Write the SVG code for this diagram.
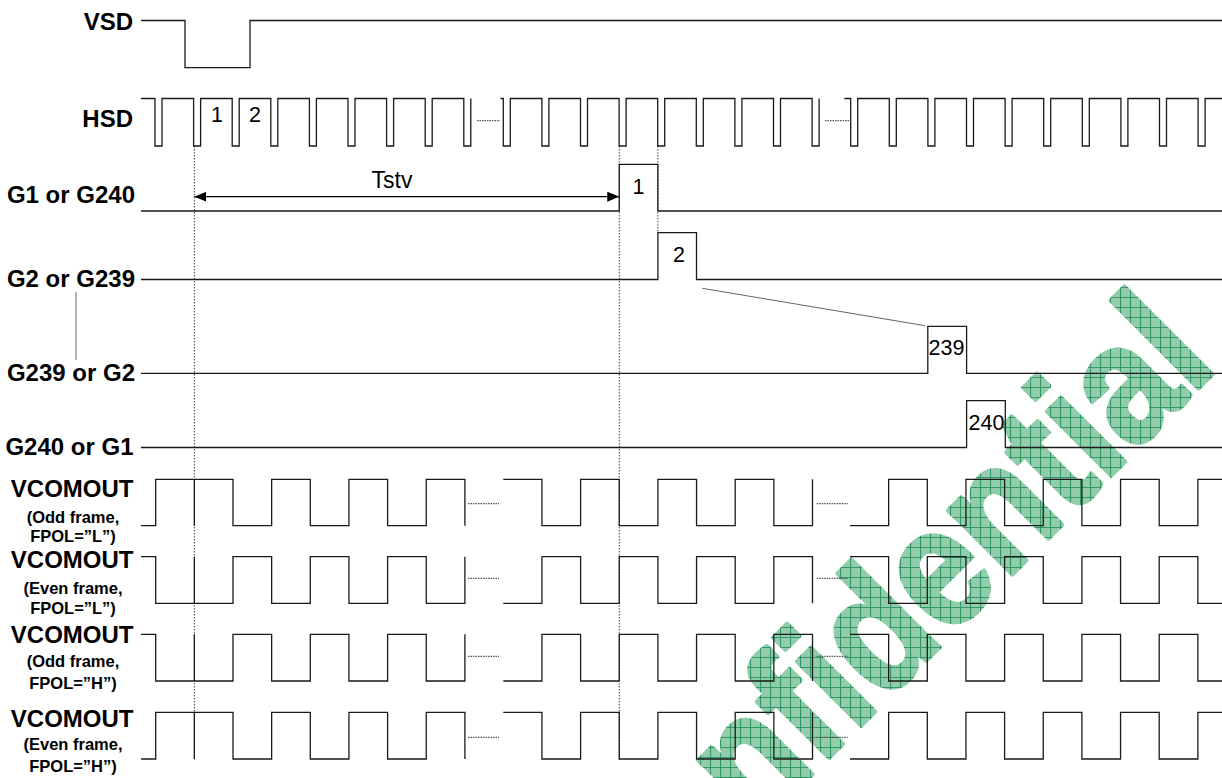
<svg xmlns="http://www.w3.org/2000/svg" width="1222" height="778" viewBox="0 0 1222 778">
<defs>
<style>
.w{fill:none;stroke:#1a1a1a;stroke-width:1.3}
.dot{fill:none;stroke:#444;stroke-width:1;stroke-dasharray:1.5 1.5}
.dash{fill:none;stroke:#555;stroke-width:1.2;stroke-dasharray:1.5 1}
.thin{fill:none;stroke:#666;stroke-width:1}
.lbl{font-family:"Liberation Sans",Arial,sans-serif;font-weight:bold;font-size:24px;fill:#000;text-anchor:end}
.sub{font-family:"Liberation Sans",Arial,sans-serif;font-weight:bold;font-size:16.5px;fill:#000;text-anchor:middle}
.num{font-family:"Liberation Sans",Arial,sans-serif;font-size:21.5px;fill:#000}
.wm{font-family:"Liberation Sans",Arial,sans-serif;font-weight:bold;font-size:172px}
</style>
<marker id="ah" viewBox="0 0 12 10" refX="12" refY="5" markerWidth="12" markerHeight="10" markerUnits="userSpaceOnUse" orient="auto-start-reverse">
<path d="M0,0 L12,5 L0,10 Z" fill="#000"/>
</marker>
<pattern id="hatch" patternUnits="userSpaceOnUse" width="10" height="10" patternTransform="scale(1.1628,1) rotate(45)">
<rect width="10" height="10" fill="#92cdab"/>
<path d="M0,0.5 H10 M0.5,0 V10" stroke="#2f9563" stroke-width="1"/>
</pattern>
</defs>

<g id="watermark">
<text class="wm" fill="url(#hatch)" stroke="url(#hatch)" stroke-width="4" stroke-linejoin="round" text-anchor="end" transform="translate(1220,367) rotate(-45) scale(0.86,1)">Confidential</text>
</g>

<g id="labels">
<text class="lbl" x="133" y="30">VSD</text>
<text class="lbl" x="133" y="127">HSD</text>
<text class="lbl" x="135" y="203">G1 or G240</text>
<text class="lbl" x="135" y="286.5">G2 or G239</text>
<text class="lbl" x="135" y="380.5">G239 or G2</text>
<text class="lbl" x="133.5" y="455">G240 or G1</text>
<text class="lbl" x="133.5" y="497">VCOMOUT</text>
<text class="sub" x="73" y="522.5">(Odd frame,</text>
<text class="sub" x="73" y="542">FPOL=”L”)</text>
<text class="lbl" x="133.5" y="568">VCOMOUT</text>
<text class="sub" x="73" y="593.5">(Even frame,</text>
<text class="sub" x="73" y="614">FPOL=”L”)</text>
<text class="lbl" x="133.5" y="643">VCOMOUT</text>
<text class="sub" x="73" y="667">(Odd frame,</text>
<text class="sub" x="73" y="688.5">FPOL=”H”)</text>
<text class="lbl" x="133.5" y="727">VCOMOUT</text>
<text class="sub" x="73" y="750">(Even frame,</text>
<text class="sub" x="73" y="771.5">FPOL=”H”)</text>
</g>

<g id="guides">
<path class="dot" d="M194.35,146 V760 M619.25,146 V760 M657.9,146 V233"/>
<path class="thin" d="M76,292 V360"/>
<path class="thin" d="M702.3,288.3 L925,325.7"/>
</g>

<g id="VSD">
<path class="w" d="M141,20.5 H185 V67.7 H250 V20.5 H1222"/>
</g>

<g id="HSD">
<path class="w" d="M141,98.5 H155 V146 H162 V98.5 H193.6 V146 H200.6 V98.5 H232.2 V146 H239.2 V98.5 H270.8 V146 H277.8 V98.5 H309.4 V146 H316.4 V98.5 H348 V146 H355 V98.5 H386.6 V146 H393.6 V98.5 H425.2 V146 H432.2 V98.5 H463.8 V146 H470.8 V98.5"/>
<path class="w" d="M500.5,98.5 H503.3 V146 H510.3 V98.5 H541.9 V146 H548.9 V98.5 H580.5 V146 H587.5 V98.5 H619.1 V146 H626.1 V98.5 H657.7 V146 H664.7 V98.5 H696.3 V146 H703.3 V98.5 H734.9 V146 H741.9 V98.5 H773.5 V146 H780.5 V98.5 H812.1 V146 H819.1 V98.5"/>
<path class="w" d="M844.3,98.5 H850.7 V146 H857.7 V98.5 H889.3 V146 H896.3 V98.5 H927.9 V146 H934.9 V98.5 H966.5 V146 H973.5 V98.5 H1005.1 V146 H1012.1 V98.5 H1043.7 V146 H1050.7 V98.5 H1082.3 V146 H1089.3 V98.5 H1120.9 V146 H1127.9 V98.5 H1159.5 V146 H1166.5 V98.5 H1198.1 V146 H1205.1 V98.5 H1222"/>
<path class="dash" d="M477,120.7 H500 M825,120.7 H850"/>
<text class="num" x="217" y="122" text-anchor="middle">1</text>
<text class="num" x="255" y="122" text-anchor="middle">2</text>
</g>

<g id="G1">
<path class="w" d="M141,211 H619.25 V164.3 H657.9 V211 H1222"/>
<text class="num" x="638.5" y="194" text-anchor="middle">1</text>
</g>

<g id="Tstv">
<path d="M194.35,196.7 H619.25" stroke="#000" stroke-width="1.2" fill="none" marker-start="url(#ah)" marker-end="url(#ah)"/>
<text class="num" x="392" y="188" text-anchor="middle" style="font-size:23px">Tstv</text>
</g>

<g id="G2">
<path class="w" d="M141,279.5 H657.9 V232.7 H696.5 V279.5 H1222"/>
<text class="num" x="679" y="261.7" text-anchor="middle">2</text>
</g>

<g id="G239">
<path class="w" d="M141,373.3 H927.8 V326.3 H966.6 V373.3 H1222"/>
<text class="num" x="928.5" y="355">239</text>
</g>

<g id="G240">
<path class="w" d="M141,447.5 H966.6 V400.7 H1005.3 V447.5 H1222"/>
<text class="num" x="968.5" y="430">240</text>
</g>

<g id="VCOM1">
<path class="w" d="M141,525.7 H155.7 V479.3 H233 V525.7 H271.65 V479.3 H310.3 V525.7 H348.95 V479.3 H387.6 V525.7 H426.25 V479.3 H464.9 V525.7 M194.35,479.3 V525.7"/>
<path class="w" d="M503.3,479.3 H541.95 V525.7 H580.6 V479.3 H619.25 V525.7 H657.9 V479.3 H696.55 V525.7 H735.2 V479.3 H773.85 V525.7 H812.5 V479.3"/>
<path class="w" d="M850,525.7 H888.65 V479.3 H927.3 V525.7 H965.95 V479.3 H1004.6 V525.7 H1043.25 V479.3 H1081.9 V525.7 H1120.55 V479.3 H1159.2 V525.7 H1197.85 V479.3 H1222"/>
<path class="dash" d="M468,503.7 H499 M816.7,503.7 H847.7"/>
</g>

<g id="VCOM2">
<path class="w" d="M141,556.7 H155.7 V603.3 H233 V556.7 H271.65 V603.3 H310.3 V556.7 H348.95 V603.3 H387.6 V556.7 H426.25 V603.3 H464.9 V556.7 M194.35,556.7 V603.3"/>
<path class="w" d="M503.3,603.3 H541.95 V556.7 H580.6 V603.3 H619.25 V556.7 H657.9 V603.3 H696.55 V556.7 H735.2 V603.3 H773.85 V556.7 H812.5 V603.3"/>
<path class="w" d="M850,556.7 H888.65 V603.3 H927.3 V556.7 H965.95 V603.3 H1004.6 V556.7 H1043.25 V603.3 H1081.9 V556.7 H1120.55 V603.3 H1159.2 V556.7 H1197.85 V603.3 H1222"/>
<path class="dash" d="M468,578.3 H499 M816.7,578.3 H847.7"/>
</g>

<g id="VCOM3">
<path class="w" d="M141,634.3 H155.7 V681 H233 V634.3 H271.65 V681 H310.3 V634.3 H348.95 V681 H387.6 V634.3 H426.25 V681 H464.9 V634.3 M194.35,634.3 V681"/>
<path class="w" d="M503.3,681 H541.95 V634.3 H580.6 V681 H619.25 V634.3 H657.9 V681 H696.55 V634.3 H735.2 V681 H773.85 V634.3 H812.5 V681"/>
<path class="w" d="M850,634.3 H888.65 V681 H927.3 V634.3 H965.95 V681 H1004.6 V634.3 H1043.25 V681 H1081.9 V634.3 H1120.55 V681 H1159.2 V634.3 H1197.85 V681 H1222"/>
<path class="dash" d="M468,656.3 H499 M816.7,656.3 H847.7"/>
</g>

<g id="VCOM4">
<path class="w" d="M141,759 H155.7 V712.3 H233 V759 H271.65 V712.3 H310.3 V759 H348.95 V712.3 H387.6 V759 H426.25 V712.3 H464.9 V759 M194.35,712.3 V759"/>
<path class="w" d="M503.3,712.3 H541.95 V759 H580.6 V712.3 H619.25 V759 H657.9 V712.3 H696.55 V759 H735.2 V712.3 H773.85 V759 H812.5 V712.3"/>
<path class="w" d="M850,759 H888.65 V712.3 H927.3 V759 H965.95 V712.3 H1004.6 V759 H1043.25 V712.3 H1081.9 V759 H1120.55 V712.3 H1159.2 V759 H1197.85 V712.3 H1222"/>
<path class="dash" d="M468,737.3 H499 M816.7,737.3 H847.7"/>
</g>
</svg>
